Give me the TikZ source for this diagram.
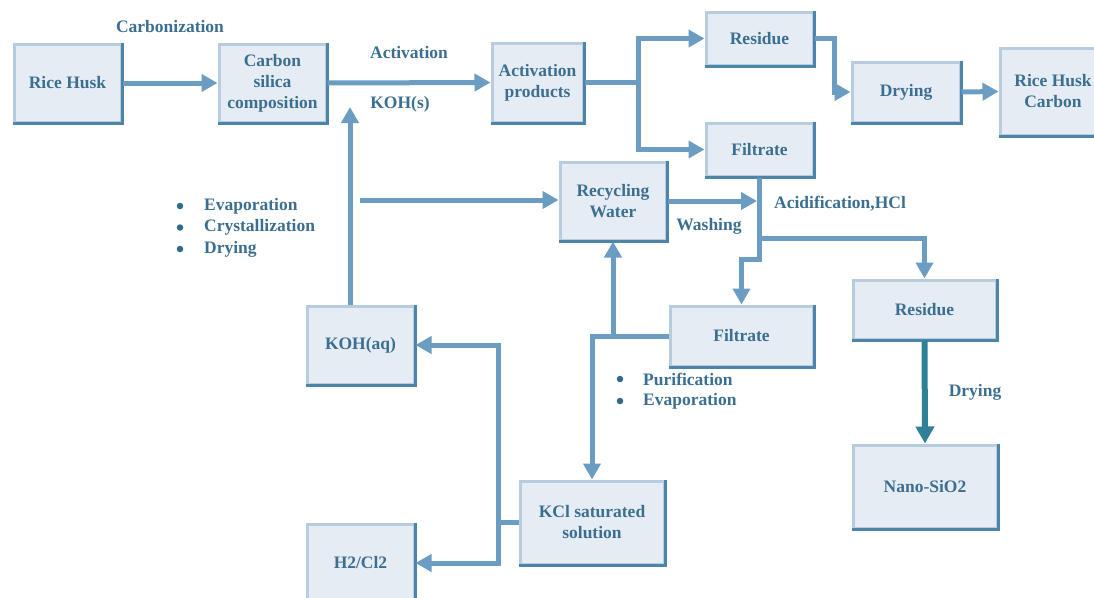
\documentclass[tikz,border=0pt]{standalone}
\usepackage{fontspec}
\setmainfont{Liberation Serif}
\usetikzlibrary{arrows.meta}
\definecolor{txt}{HTML}{3B6F91}
\definecolor{bul}{HTML}{2F6A8C}
\definecolor{arr}{HTML}{6B9DC2}
\definecolor{teal}{HTML}{2E8096}
\definecolor{bfill}{HTML}{E6ECF3}
\definecolor{blight}{HTML}{B8CCE0}
\definecolor{bdark}{HTML}{4D84AA}
\tikzset{
  pbox/.style={draw=blight, line width=3pt, fill=bfill, align=center, text=txt,
    font=\fontsize{17.5}{21}\selectfont\bfseries, inner sep=0pt},
  lbl/.style={text=txt, font=\fontsize{17.5}{21}\selectfont\bfseries, inner sep=0pt},
  bullet/.style={circle, fill=bul, minimum size=6.5pt, inner sep=0pt},
  flow/.style={draw=arr, line width=5pt, -{Triangle[length=16pt,width=17pt]}},
  flowdark/.style={draw=teal, line width=6pt, -{Triangle[length=17pt,width=18pt]}}
}
\begin{document}
\begin{tikzpicture}[x=1pt,y=-1pt]
\useasboundingbox (0,0) rectangle (1094,597);
% boxes
\node[pbox, minimum width=107pt, minimum height=78pt] (rice) at (67.5,83) {Rice Husk};
\node[pbox, minimum width=107pt, minimum height=78pt] (csc) at (272.5,83) {Carbon\\silica\\composition};
\node[pbox, minimum width=91pt, minimum height=79pt] (act) at (537.5,82.5) {Activation\\products};
\node[pbox, minimum width=107pt, minimum height=53pt] (res1) at (759.5,38.5) {Residue};
\node[pbox, minimum width=107pt, minimum height=53pt] (fil1) at (759.5,149.5) {Filtrate};
\node[pbox, minimum width=108pt, minimum height=60pt] (dry) at (906,92) {Drying};
\node[pbox, minimum width=100pt, minimum height=87pt] (rhc) at (1050,91.5) {\hspace*{6pt}Rice Husk\\\hspace*{6pt}Carbon};
\node[pbox, minimum width=106pt, minimum height=78pt] (rw) at (613,201) {Recycling\\Water};
\node[pbox, minimum width=143pt, minimum height=60pt] (fil2) at (741.5,336) {Filtrate};
\node[pbox, minimum width=143pt, minimum height=59pt] (res2) at (924.5,309.5) {Residue};
\node[pbox, minimum width=144pt, minimum height=83pt] (nano) at (925,486.5) {Nano-SiO2};
\node[pbox, minimum width=107pt, minimum height=78pt] (kohaq) at (360.5,345) {KOH(aq)};
\node[pbox, minimum width=144pt, minimum height=83pt] (kcl) at (592,522.5) {KCl saturated\\solution};
\node[pbox, minimum width=107pt, minimum height=78pt] (h2) at (360.5,563) {H2/Cl2};
\foreach \n in {rice,csc,act,res1,fil1,dry,rhc,rw,fil2,res2,nano,kohaq,kcl,h2}{
  \draw[bdark, line width=3pt, line cap=butt, line join=miter] (\n.north east) -- (\n.south east) -- (\n.south west);
}
% labels
\node[lbl] (lcarb) at (170,27) {Carbonization};
\node[lbl] (lact) at (409,53) {Activation};
\node[lbl] (lkohs) at (400,104) {KOH(s)};
\node[lbl] (lwash) at (709,226) {Washing};
\node[lbl] (lacid) at (840,204) {Acidification,HCl};
\node[lbl] (ldry) at (975,392) {Drying};
\node[bullet] (b1) at (180,206) {};
\node[lbl, anchor=west] (t1) at (204,206) {Evaporation};
\node[bullet] (b2) at (180,227.5) {};
\node[lbl, anchor=west] (t2) at (204,227.5) {Crystallization};
\node[bullet] (b3) at (180,249) {};
\node[lbl, anchor=west] (t3) at (204,249) {Drying};
\node[bullet] (b4) at (620,379) {};
\node[lbl, anchor=west] (t4) at (643,379) {Purification};
\node[bullet] (b5) at (620,401) {};
\node[lbl, anchor=west] (t5) at (643,401) {Evaporation};
% coordinates
\coordinate (kup) at (350,107);
\coordinate (wstart) at (360,200);
% connectors
\draw[flow] (rice.east) -- (csc.west);
\draw[flow] (csc.east) -- (act.west);
\draw[flow] (act.east) -- ++(54,0) |- (res1.west);
\draw[flow] (act.east) -- ++(54,0) |- (fil1.west);
\draw[flow] (res1.east) -- ++(20,0) |- (dry.west);
\draw[flow] (dry.east) -- (rhc.west);
\draw[flow] (kohaq.north -| kup) -- (kup);
\draw[flow] (wstart) -- (wstart -| rw.west);
\draw[flow, shorten >=2.5pt] (rw.east) -- (rw.east -| fil1.south);
\draw[flow] (fil1.south) -- ++(0,61) -| (res2.north);
\draw[flow] (fil1.south) -- ++(0,82) -| (fil2.north);
\draw[flow] (fil2.west) -| (kcl.north);
\draw[flow] (fil2.west -| rw.south) -- (rw.south);
\draw[flow] (kcl.west) -- ++(-20,0) |- (kohaq.east);
\draw[flow] (kcl.west) -- ++(-20,0) |- (h2.east);
\draw[flowdark] (res2.south) -- (nano.north);
\end{tikzpicture}
\end{document}
